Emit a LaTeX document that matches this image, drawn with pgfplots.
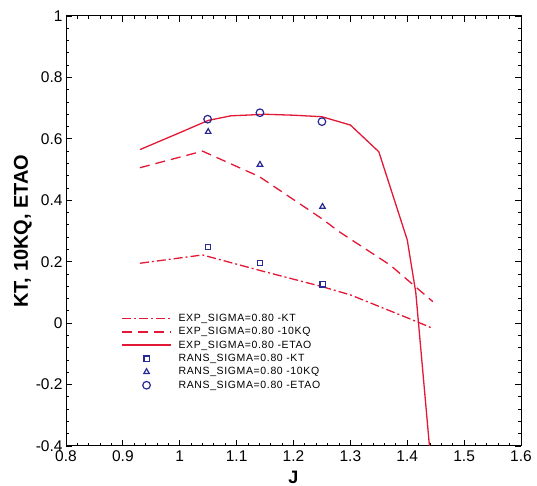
\documentclass[border=0pt]{standalone}
\usepackage{pgfplots}
\pgfplotsset{compat=1.18}
\usepackage{fontspec}
\setmainfont{Liberation Sans}
\newfontfamily\legfont{Liberation Sans}[LetterSpace=6]
\definecolor{lred}{RGB}{226,24,54}
\definecolor{mblue}{RGB}{40,40,150}
\pgfplotsset{
  lineleg/.style={legend image code/.code={\draw[mark repeat=2,mark phase=2,##1,line width=1.7pt] plot coordinates {(0cm,0cm) (0.85cm,0cm) (1.7cm,0cm)};}},
  markleg/.style={legend image code/.code={\draw[mark repeat=2,mark phase=2,##1] plot coordinates {(0cm,0cm) (0.85cm,0cm) (1.7cm,0cm)};}}}
\begin{document}
\begin{tikzpicture}
\useasboundingbox (-66pt,-40pt) rectangle (471pt,446pt);
\begin{axis}[
  at={(0,0)}, anchor=south west,
  scale only axis, width=455pt, height=430pt,
  xmin=0.8, xmax=1.6, ymin=-0.4, ymax=1,
  xtick={0.8,0.9,...,1.61}, ytick={-0.4,-0.2,0,0.2,0.4,0.6,0.8,1},
  minor x tick num=4, minor y tick num=4,
  tick align=inside,
  major tick length=6pt, minor tick length=3pt,
  every tick/.style={black, line width=0.8pt},
  axis line style={black, line width=1pt},
  /pgf/number format/assume math mode=true,
  ticklabel style={font=\fontsize{15.5}{15.5}\selectfont},
  xticklabel style={yshift=-1pt},
  xlabel={\textbf{J}}, ylabel={\textbf{KT, 10KQ, ETAO}},
  xlabel style={font=\fontsize{18}{18}\selectfont, at={(axis description cs:0.5,-0.072)}, anchor=center},
  ylabel style={font=\fontsize{20}{20}\selectfont, at={(axis description cs:-0.095,0.5)}, anchor=center},
  clip=true,
  legend cell align=left,
  legend style={draw=none, fill=none, at={(axis description cs:0.115,0.314)}, anchor=north west,
    font=\legfont\fontsize{10.5}{12}\selectfont, row sep=2.5pt, nodes={inner sep=1pt},
    /tikz/every odd column/.append style={column sep=6pt}},
]
\addplot[lred, line width=1.3pt, dash pattern=on 9pt off 3pt on 2pt off 3pt, lineleg] coordinates {
 (0.93,0.195) (1.04,0.222) (1.14,0.172) (1.25,0.119) (1.30,0.092) (1.41,0.010) (1.445,-0.017)};
\addlegendentry{EXP\_SIGMA=0.80 -KT}
\addplot[lred, line width=1.3pt, dash pattern=on 10pt off 6pt, lineleg] coordinates {
 (0.93,0.506) (1.04,0.560) (1.14,0.477) (1.25,0.340) (1.28,0.298) (1.37,0.189) (1.445,0.070)};
\addlegendentry{EXP\_SIGMA=0.80 -10KQ}
\addplot[lred, line width=1.3pt, lineleg] coordinates {
 (0.93,0.565) (1.00,0.620) (1.05,0.660) (1.09,0.675) (1.15,0.680) (1.20,0.677) (1.25,0.672) (1.30,0.645) (1.35,0.558) (1.40,0.271) (1.415,0.10) (1.44,-0.42)};
\addlegendentry{EXP\_SIGMA=0.80 -ETAO}
\addplot[only marks, mblue, mark=square, mark size=2.6pt, line width=1.2pt, markleg] coordinates {
 (1.05,0.247) (1.141,0.195) (1.251,0.126)};
\addlegendentry{RANS\_SIGMA=0.80 -KT}
\addplot[only marks, mblue, mark=triangle, mark size=3.2pt, line width=1.2pt, markleg] coordinates {
 (1.05,0.623) (1.141,0.516) (1.251,0.379)};
\addlegendentry{RANS\_SIGMA=0.80 -10KQ}
\addplot[only marks, mblue, mark=o, mark size=3.8pt, line width=1.2pt, markleg] coordinates {
 (1.049,0.664) (1.141,0.685) (1.25,0.656)};
\addlegendentry{RANS\_SIGMA=0.80 -ETAO}
\end{axis}
\end{tikzpicture}
\end{document}
